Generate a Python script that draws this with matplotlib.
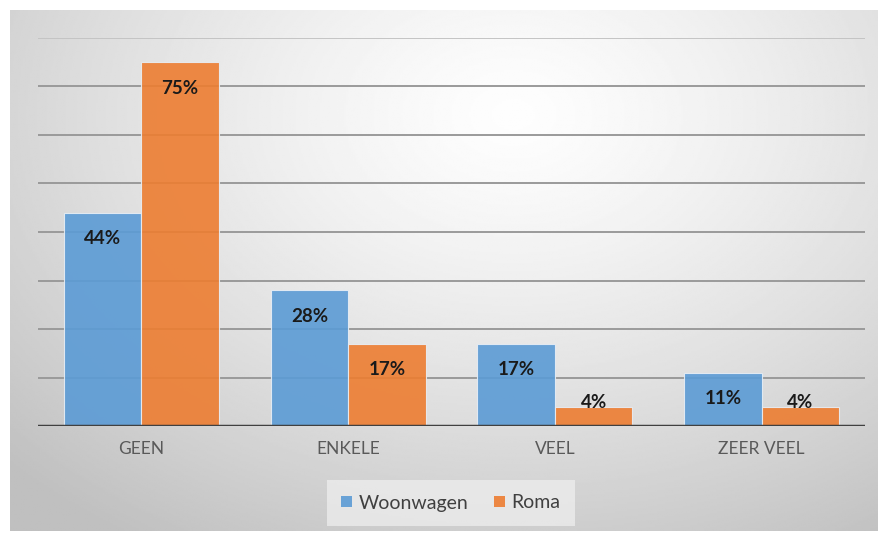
import matplotlib

matplotlib.use("Agg")
import matplotlib.pyplot as plt
import numpy as np
from matplotlib.patches import Patch

plt.rcParams["font.family"] = ["Lato", "DejaVu Sans"]

categories = ["GEEN", "ENKELE", "VEEL", "ZEER VEEL"]
woonwagen = [44, 28, 17, 11]
roma = [75, 17, 4, 4]
series_names = ["Woonwagen", "Roma"]
C_BLUE, C_ORANGE = "#5b9bd5", "#ed7d31"

W, H = 883, 533
fig = plt.figure(figsize=(W / 100, H / 100), dpi=100)
fig.patch.set_facecolor("white")

# grey panel with radial gradient
bg = fig.add_axes([10 / W, 2 / H, 868 / W, 521 / H])
bg.set_axis_off()
yy, xx = np.mgrid[0:1:300j, 0:1:500j]
r = np.sqrt(((xx - 0.58) / 0.75) ** 2 + ((yy - 0.2) / 0.9) ** 2)
shade = np.clip(0.995 - 0.22 * r ** 1.3, 0.75, 1.0)
bg.imshow(shade, cmap="gray", vmin=0, vmax=1, aspect="auto", extent=[0, 1, 1, 0])
bg.set_xlim(0, 1)
bg.set_ylim(1, 0)

ax = fig.add_axes([38 / W, (H - 426) / H, 827 / W, 388 / H])
ax.patch.set_alpha(0)
x = np.arange(len(categories))
bw = 0.375
b1 = ax.bar(x - bw / 2, woonwagen, bw, color=C_BLUE, alpha=0.9,
            edgecolor="#e8eef5", linewidth=0.8, zorder=2)
b2 = ax.bar(x + bw / 2, roma, bw, color=C_ORANGE, alpha=0.9,
            edgecolor="#e8eef5", linewidth=0.8, zorder=2)

ax.set_xlim(-0.5, len(categories) - 0.5)
ax.set_ylim(0, 80)
for g in range(10, 81, 10):
    ax.axhline(g, color="#9a9a9a" if g < 80 else "#c4c4c4", linewidth=1.4, zorder=1)
ax.axhline(0, color="#404040", linewidth=2.5, zorder=3)

for bars, vals in ((b1, woonwagen), (b2, roma)):
    for rect, v in zip(bars, vals):
        ax.text(rect.get_x() + rect.get_width() / 2, max(v - 5.4, 4.9), f"{v}%",
                ha="center", va="center", fontsize=13.5, fontweight="bold",
                color="#1a1a1a", zorder=4)

ax.set_xticks(x, categories)
ax.tick_params(axis="x", length=0, pad=11, labelsize=12.5, colors="#595959")
ax.set_yticks([])
for s in ax.spines.values():
    s.set_visible(False)

handles = [Patch(facecolor=C_BLUE, alpha=0.9), Patch(facecolor=C_ORANGE, alpha=0.9)]
leg = fig.legend(handles, series_names, loc="center", bbox_to_anchor=(451 / W, (H - 503) / H),
                 ncol=2, frameon=True, fontsize=14, handlelength=0.55, handleheight=0.55,
                 handletextpad=0.35, columnspacing=1.3, borderpad=0.75, labelcolor="#404040")
leg.get_frame().set_facecolor("#f0f0f0")
leg.get_frame().set_alpha(0.7)
leg.get_frame().set_edgecolor("none")
leg.get_frame().set_boxstyle("square", pad=0)

fig.savefig("out.png", dpi=100, facecolor="white")
